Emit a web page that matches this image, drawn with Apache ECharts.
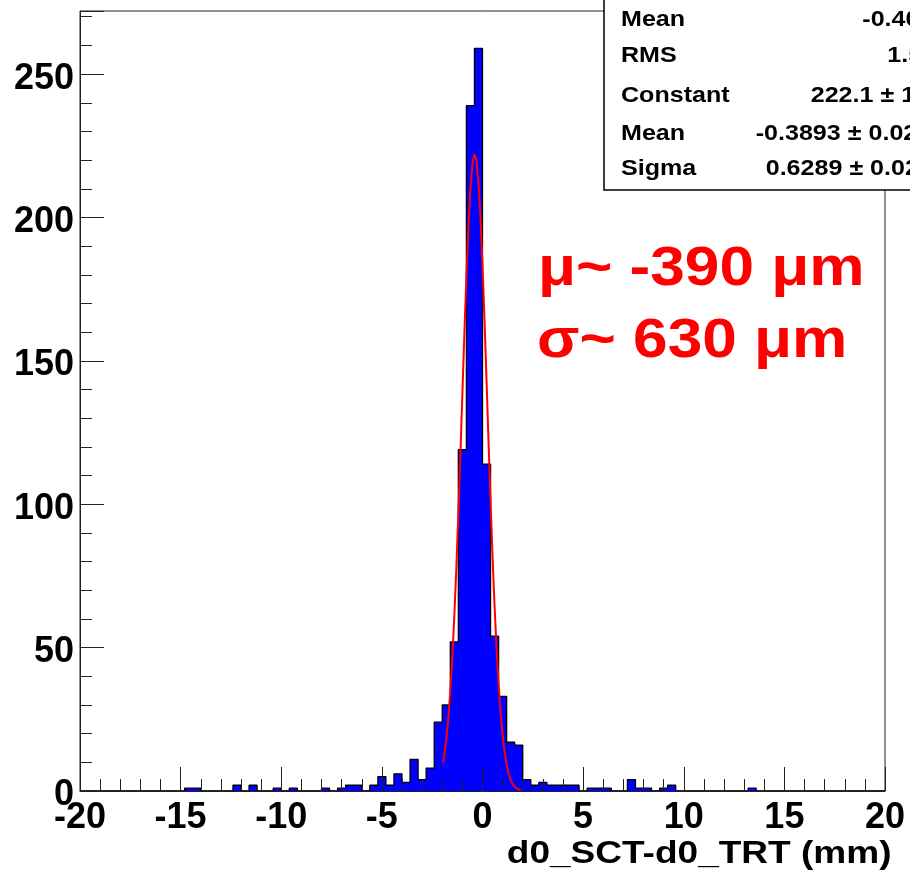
<!DOCTYPE html>
<html><head><meta charset="utf-8">
<script src="https://cdn.jsdelivr.net/npm/echarts@6/dist/echarts.min.js"></script>
<style>html,body{margin:0;padding:0;background:#fff;}#c{width:910px;height:873px;}</style>
</head><body><div id="c"></div>
<script>
// ---- data ----
const binLow = -20;
const binWidth = 0.4;
const counts = [
  0,0,0,0,0,0,0,0,0,0,
  0,0,0,1,1,0,0,0,0,2,
  0,2,0,0,1,0,1,0,0,0,
  1,0,1,2,2,0,2,5,2,6,
  3,11,4,8,24,30,52,119,239,259,
  114,54,33,17,16,4,2,3,2,2,
  2,2,0,1,1,1,0,0,4,1,
  1,0,1,2,0,0,0,0,0,0,
  0,0,0,1,0,0,0,0,0,0,
  0,0,0,0,0,0,0,0,0,0
];
const fitX = [-1.96,-1.9,-1.8,-1.7,-1.6,-1.5,-1.4,-1.3,-1.2,-1.1,-1.0,-0.9,-0.8,-0.7,-0.6,-0.5,-0.4,-0.3,-0.2,-0.1,
  0.0,0.1,0.2,0.3,0.4,0.5,0.6,0.7,0.8,0.9,1.0,1.1,1.2,1.3,1.4,1.5,1.6,1.7,1.8,1.9];
const fitY = [9.8,12.4,17.9,25.3,34.8,46.7,61.0,77.8,96.7,117.2,138.5,159.7,179.4,196.6,210.0,218.7,222.1,219.9,212.3,199.8,
  183.4,164.1,143.2,121.8,101.0,81.7,64.4,49.6,37.2,27.2,19.4,13.5,9.1,6.0,3.9,2.4,1.5,0.9,0.5,0.3];
const yMajorTicks = [0,50,100,150,200,250];
const statsLabels = ['Mean','RMS','Constant','Mean','Sigma'];
const statsValues = ['-0.4036','1.517','222.1 \u00b1 10.3','-0.3893 \u00b1 0.0213','0.6289 \u00b1 0.0216'];
const xAxisTitle = 'd0_SCT-d0_TRT (mm)';
const noteLines = ['\u03bc~ -390 \u03bcm', '\u03c3~ 630 \u03bcm'];

// ---- build ----
const histPts = counts.map((c, i) => [+(binLow + i * binWidth).toFixed(2), c]);
histPts.push([+(binLow + counts.length * binWidth).toFixed(2), counts[counts.length - 1]]);
const fitPts = fitX.map((x, i) => [x, fitY[i]]);

const FONT = '"Liberation Sans", Arial, Helvetica, sans-serif';
const axisColor = '#222';

const statsLabelY = [19.5, 56, 95.5, 134, 169];
const statsValueX = [863.3, 888.3, 811.7, 756.7, 766.7];
const graphics = [
  { type: 'rect', z: 100, shape: { x: 604, y: -5, width: 400, height: 195 },
    style: { fill: '#fff', stroke: '#000', lineWidth: 1.5 } }
];
statsLabels.forEach((t, i) => {
  graphics.push({ type: 'text', z: 101, x: 621, y: statsLabelY[i], scaleX: 1.14,
    style: { text: t, font: 'bold 22px ' + FONT, fill: '#000', textAlign: 'left', textVerticalAlign: 'middle' } });
  graphics.push({ type: 'text', z: 101, x: statsValueX[i] - 1, y: statsLabelY[i], scaleX: 1.14,
    style: { text: statsValues[i], font: 'bold 22px ' + FONT, fill: '#000', textAlign: 'left', textVerticalAlign: 'middle' } });
});
graphics.push({ type: 'text', z: 101, x: 538, y: 270, scaleX: 1.11,
  style: { text: noteLines[0], font: 'bold 56px ' + FONT, fill: '#ff0000', textAlign: 'left', textVerticalAlign: 'middle' } });
graphics.push({ type: 'text', z: 101, x: 537, y: 342, scaleX: 1.11,
  style: { text: noteLines[1], font: 'bold 56px ' + FONT, fill: '#ff0000', textAlign: 'left', textVerticalAlign: 'middle' } });
graphics.push({ type: 'text', z: 101, x: 891.5, y: 854, scaleX: 1.157,
  style: { text: xAxisTitle, font: 'bold 32px ' + FONT, fill: '#000', textAlign: 'right', textVerticalAlign: 'middle' } });

const chart = echarts.init(document.getElementById('c'), null, { renderer: 'canvas' });
chart.setOption({
  animation: false,
  backgroundColor: '#fff',
  grid: { left: 80, right: 25, top: 11, bottom: 82, show: true, borderColor: axisColor, borderWidth: 1,
          containLabel: false, outerBoundsMode: 'none' },
  xAxis: [{
    type: 'value', min: -20, max: 20, interval: 5, position: 'bottom', z: 10,
    axisLine: { show: true, onZero: false, lineStyle: { color: axisColor, width: 1 } },
    axisTick: { show: true, inside: true, length: 24, lineStyle: { color: axisColor, width: 1 } },
    minorTick: { show: true, splitNumber: 5, length: 12, lineStyle: { color: axisColor, width: 1 } },
    splitLine: { show: false }, minorSplitLine: { show: false },
    axisLabel: { show: true, margin: 9, color: '#000', fontSize: 36, fontWeight: 'bold', fontFamily: FONT,
                 showMinLabel: true, showMaxLabel: true, hideOverlap: false }
  }],
  yAxis: [{
    type: 'value', min: 0, max: 272, interval: 10, position: 'left', z: 10,
    axisLine: { show: true, onZero: false, lineStyle: { color: axisColor, width: 1 } },
    axisTick: { show: true, inside: true, length: 12, lineStyle: { color: axisColor, width: 1 } },
    axisLabel: { show: false }, splitLine: { show: false }
  }, {
    type: 'value', min: 0, max: 272, interval: 50, position: 'left', offset: 0, z: 10,
    axisLine: { show: false, onZero: false },
    axisTick: { show: true, inside: true, length: 24, lineStyle: { color: axisColor, width: 1 } },
    splitLine: { show: false },
    axisLabel: { show: true, margin: 6, color: '#000', fontSize: 36, fontWeight: 'bold', fontFamily: FONT,
                 hideOverlap: false, verticalAlign: 'top', lineHeight: 9,
                 formatter: v => (yMajorTicks.indexOf(v) >= 0 ? String(v) : '') }
  }],
  series: [{
    type: 'line', name: 'hist', data: histPts, step: 'end', yAxisIndex: 0, z: 3,
    showSymbol: false, symbol: 'none',
    lineStyle: { color: '#000', width: 1.3 },
    areaStyle: { color: '#0000ff', opacity: 1 }
  }, {
    type: 'line', name: 'fit', data: fitPts, yAxisIndex: 0, z: 4,
    showSymbol: false, symbol: 'none', smooth: false,
    lineStyle: { color: '#ff0000', width: 2 }
  }],
  graphic: graphics
});
</script></body></html>
